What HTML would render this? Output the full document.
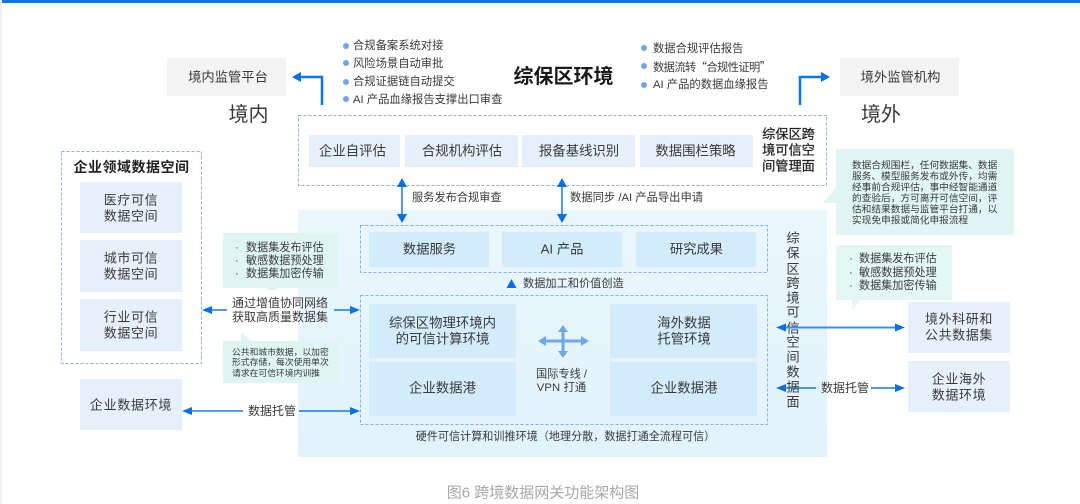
<!DOCTYPE html>
<html><head><meta charset="utf-8"><style>
html,body{margin:0;padding:0;background:#fff;width:1080px;height:504px;overflow:hidden}
svg{display:block}
text{font-family:"Liberation Sans","Noto Sans CJK SC",sans-serif;fill:#3a3a3a;text-anchor:middle;dominant-baseline:central}
.s{text-anchor:start}
.d{fill:none;stroke:#7fb3e0;stroke-width:1;stroke-dasharray:3 2}
.b{fill:#e6f0fa}.c{fill:#d3ecfb}.g{fill:#e0f6f4}.m{fill:#f3f3f3}
.l{stroke:#1a78e0;fill:none;stroke-width:1.5}
.h{fill:#0a6fe6}.dot{fill:#6ea6e6}
</style></head><body>
<svg width="1080" height="504" viewBox="0 0 1080 504" xmlns="http://www.w3.org/2000/svg">
<defs><linearGradient id="p" x1="0" y1="0" x2="0" y2="1"><stop offset="0" stop-color="#eaf6fd"/><stop offset="1" stop-color="#e2f3fc"/></linearGradient></defs>
<rect x="0" y="0" width="2" height="504" fill="#f0f0f0"/>
<rect x="2" y="0" width="1078" height="3" fill="#0a78ea"/>

<rect class="m" x="167" y="58" width="119" height="38"/>
<text x="228" y="77" font-size="13.300">境内监管平台</text>
<rect class="m" x="840" y="58" width="119" height="38"/>
<text x="900.500" y="77" font-size="13.300">境外监管机构</text>
<text x="248.500" y="115" font-size="20">境内</text>
<text x="881" y="115" font-size="20">境外</text>
<text x="563.500" y="77" font-size="20" font-weight="bold" style="fill:#1a1a1a">综保区环境</text>

<g font-size="11.300">
<circle class="dot" cx="346" cy="46" r="3"/><text class="s" x="353" y="46">合规备案系统对接</text>
<circle class="dot" cx="346" cy="63" r="3"/><text class="s" x="353" y="64">风险场景自动审批</text>
<circle class="dot" cx="346" cy="82" r="3"/><text class="s" x="353" y="82">合规证据链自动提交</text>
<circle class="dot" cx="346" cy="99" r="3"/><text class="s" x="353" y="100">AI 产品血缘报告支撑出口审查</text>
<circle class="dot" cx="644" cy="48" r="3"/><text class="s" x="653" y="49">数据合规评估报告</text>
<circle class="dot" cx="644" cy="66" r="3"/><text class="s" x="653" y="67" textLength="118" style="font-family:'Noto Sans CJK SC',sans-serif">数据流转“合规性证明”</text>
<circle class="dot" cx="644" cy="85" r="3"/><text class="s" x="653" y="85">AI 产品的数据血缘报告</text>
</g>

<path d="M322 105V77H300" stroke="#0a78ea" stroke-width="2.5" fill="none"/><path class="h" d="M292 77l9-5v10z"/>
<path d="M800 105V77H822" stroke="#0a78ea" stroke-width="2.5" fill="none"/><path class="h" d="M830 77l-9-5v10z"/>

<rect class="d" x="298.500" y="115.500" width="528" height="70"/>
<rect class="b" x="309" y="135" width="91" height="32"/><text x="352.500" y="151" font-size="13.400">企业自评估</text>
<rect class="b" x="405" y="135" width="113" height="32"/><text x="462" y="151" font-size="13.400">合规机构评估</text>
<rect class="b" x="522" y="135" width="113" height="32"/><text x="579" y="151" font-size="13.400">报备基线识别</text>
<rect class="b" x="640" y="135" width="113" height="32"/><text x="695.500" y="151" font-size="13.400">数据围栏策略</text>
<g font-size="13.200"><text x="788.500" y="134" style="fill:#222;stroke:#222;stroke-width:.25">综保区跨</text><text x="788.500" y="150" style="fill:#222;stroke:#222;stroke-width:.25">境可信空</text><text x="788.500" y="166" style="fill:#222;stroke:#222;stroke-width:.25">间管理面</text></g>

<rect x="298" y="210" width="529" height="247" fill="url(#p)"/>

<path d="M836 149h178v86H836V203H823L836 187z" class="g"/>
<g font-size="9.700">
<text class="s" x="852" y="166">数据合规围栏，任何数据集、数据</text>
<text class="s" x="852" y="177">服务、模型服务发布或外传，均需</text>
<text class="s" x="852" y="188">经事前合规评估，事中经智能通道</text>
<text class="s" x="852" y="199">的查验后，方可离开可信空间，评</text>
<text class="s" x="852" y="210">估和结果数据与监管平台打通，以</text>
<text class="s" x="852" y="221">实现免申报或简化申报流程</text>
</g>

<path class="l" d="M402 186V216"/><path class="h" d="M402 178l-5 9h10z M402 223l-5-9h10z"/>
<text class="s" x="412" y="198" font-size="11.200">服务发布合规审查</text>
<path class="l" d="M562 186V216"/><path class="h" d="M562 178l-5 9h10z M562 223l-5-9h10z"/>
<text class="s" x="570" y="198" font-size="11.300">数据同步 /AI 产品导出申请</text>

<rect class="d" x="360.500" y="225.500" width="407" height="47"/>
<rect class="c" x="369" y="232" width="120" height="35"/><text x="429.500" y="249" font-size="13.300">数据服务</text>
<rect class="c" x="502" y="232" width="120" height="35"/><text x="562" y="249" font-size="13.300">AI 产品</text>
<rect class="c" x="636" y="232" width="120" height="35"/><text x="696.500" y="249" font-size="13.300">研究成果</text>
<path class="h" d="M511.500 279l-5 9h10z"/>
<text class="s" x="523" y="284" font-size="11.200">数据加工和价值创造</text>

<rect class="d" x="360.500" y="295.500" width="407" height="129"/>
<rect class="c" x="369" y="304" width="147" height="54"/>
<text x="442.500" y="323" font-size="13.400">综保区物理环境内</text><text x="442.500" y="339" font-size="13.400">的可信计算环境</text>
<rect class="c" x="369" y="362" width="147" height="54"/><text x="442.500" y="388" font-size="13.400">企业数据港</text>
<rect class="c" x="610" y="304" width="147" height="54"/>
<text x="684" y="323" font-size="13.400">海外数据</text><text x="684" y="339" font-size="13.400">托管环境</text>
<rect class="c" x="610" y="362" width="147" height="54"/><text x="684" y="388" font-size="13.400">企业数据港</text>

<path d="M544 341H582M563 329V352" stroke="#6fa8ea" stroke-width="3" fill="none"/>
<path d="M538 341l8-5v10zM589 341l-8-5v10zM563 325l-5 7h10zM563 358l-5-7h10z" fill="#6fa8ea"/>
<text x="561.500" y="374.500" font-size="11.200">国际专线 /</text><text x="561.500" y="388" font-size="11.300" style="letter-spacing:.1px">VPN 打通</text>
<text x="565.500" y="437" font-size="11.100">硬件可信计算和训推环境（地理分散，数据打通全流程可信）</text>

<g font-size="13.300">
<text x="793" y="238">综</text><text x="793" y="253">保</text><text x="793" y="269">区</text><text x="793" y="283">跨</text><text x="793" y="298">境</text><text x="793" y="312">可</text><text x="793" y="328">信</text><text x="793" y="342">空</text><text x="793" y="357">间</text><text x="793" y="372">数</text><text x="793" y="387">据</text><text x="793" y="402">面</text>
</g>

<rect class="d" x="61.500" y="151.500" width="140" height="212"/>
<text x="131.500" y="167" font-size="14" font-weight="bold" style="fill:#222;letter-spacing:.5px">企业领域数据空间</text>
<rect class="b" x="80" y="182" width="102" height="51"/>
<g font-size="13" style="letter-spacing:.6px">
<text x="131" y="200">医疗可信</text><text x="131" y="216">数据空间</text>
</g>
<rect class="b" x="80" y="240" width="102" height="52"/>
<g font-size="13" style="letter-spacing:.6px">
<text x="131" y="258">城市可信</text><text x="131" y="274">数据空间</text>
</g>
<rect class="b" x="80" y="299" width="102" height="52"/>
<g font-size="13" style="letter-spacing:.6px">
<text x="131" y="317">行业可信</text><text x="131" y="333">数据空间</text>
</g>
<rect class="b" x="80" y="379" width="102" height="51"/>
<text x="131" y="405" font-size="13" style="letter-spacing:.7px">企业数据环境</text>

<path d="M223 233h115v55h-58l-8 3-7-3h-42z" fill="#dff5f2"/>
<g font-size="11.100">
<text class="s" x="235" y="248">·</text><text class="s" x="246" y="248">数据集发布评估</text>
<text class="s" x="235" y="261">·</text><text class="s" x="246" y="261">敏感数据预处理</text>
<text class="s" x="235" y="274">·</text><text class="s" x="246" y="274">数据集加密传输</text>
</g>
<g font-size="12">
<text x="280" y="303">通过增值协同网络</text><text x="280" y="317">获取高质量数据集</text>
</g>
<path class="l" d="M210 310H227M334 310H352"/><path class="h" d="M202 310l10-4v8zM360 310l-10-4v8z"/>
<path d="M223 341h18v-9l10 9h87v42H223z" fill="#dff5f2"/>
<g font-size="8.800">
<text class="s" x="232" y="352">公共和城市数据，以加密</text>
<text class="s" x="232" y="362">形式存储，每次使用单次</text>
<text class="s" x="232" y="373">请求在可信环境内训推</text>
</g>
<path class="l" d="M190 411H243M299 411H352"/><path class="h" d="M182 411l10-4v8zM360 411l-10-4v8z"/>
<text x="272" y="411" font-size="12">数据托管</text>

<path d="M836 245h116v55H860l-8 11v-11h-16z" fill="#e3f7f4"/>
<g font-size="11.100">
<text class="s" x="849" y="259">·</text><text class="s" x="859" y="259">数据集发布评估</text>
<text class="s" x="849" y="273">·</text><text class="s" x="859" y="273">敏感数据预处理</text>
<text class="s" x="849" y="286">·</text><text class="s" x="859" y="286">数据集加密传输</text>
</g>
<rect class="b" x="908" y="302" width="102" height="51"/>
<g font-size="13" style="letter-spacing:.6px"><text x="959" y="319">境外科研和</text><text x="959" y="335">公共数据集</text></g>
<rect class="b" x="908" y="361" width="102" height="51"/>
<g font-size="13" style="letter-spacing:.6px"><text x="959" y="379">企业海外</text><text x="959" y="395">数据环境</text></g>
<path d="M782 327.500H898" stroke="#3f8fe6" stroke-width="2" fill="none"/><path class="h" d="M776 327.500l10-4v8zM905 327.500l-10-4v8z"/>
<path class="l" d="M782 388H816M871 388H898"/><path class="h" d="M776 388l10-4v8zM905 388l-10-4v8z"/>
<text x="845" y="388" font-size="12">数据托管</text>

<text x="543" y="493" font-size="15" style="fill:#a8a8a8">图6 跨境数据网关功能架构图</text>
</svg>
</body></html>
